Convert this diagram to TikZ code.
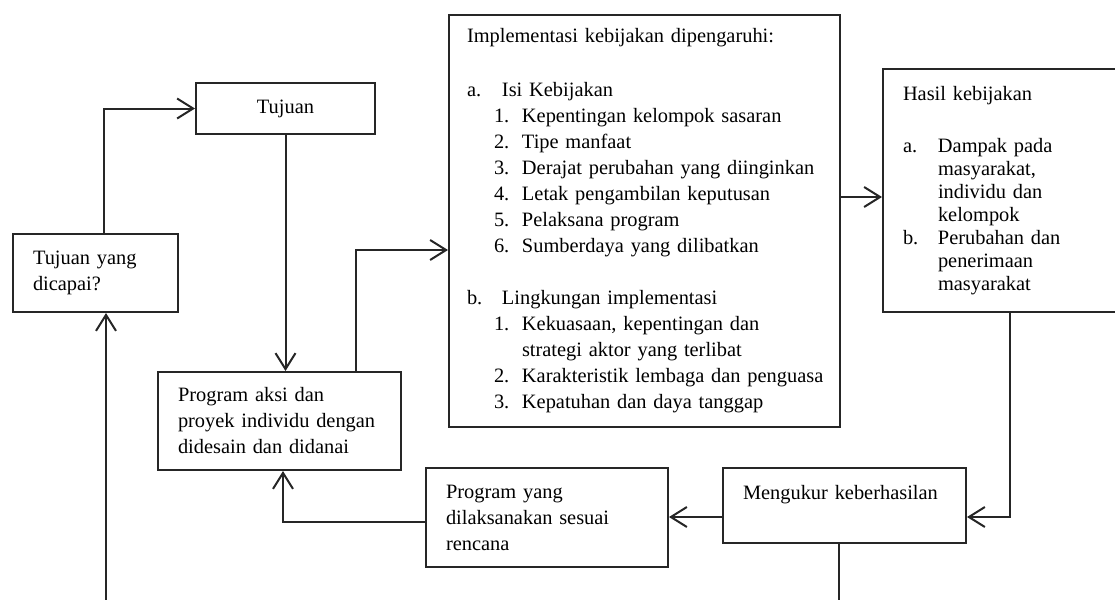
\documentclass[tikz,border=0pt]{standalone}
\usepackage{fontspec}
\setmainfont{Liberation Serif}
\usetikzlibrary{arrows.meta}
\newcommand\letitem[1]{\makebox[17.5pt][l]{#1}}
\newcommand\numitem[1]{\hspace*{13.5pt}\makebox[14pt][l]{#1}}
\begin{document}
\begin{tikzpicture}[x=0.5pt, y=-0.5pt,
    box/.style={draw=black!85, line width=1pt, rectangle, anchor=north west,
      inner xsep=10pt, inner ysep=0pt, align=left,
      font=\fontsize{10.2}{13}\selectfont},
    line/.style={draw=black!85, line width=1pt},
    link/.style={line, -{Straight Barb[length=8pt, width=10pt, line width=1pt]}}]
  \useasboundingbox (0,0) rectangle (1115,600);
  %
  \node[box, minimum width=82.5pt, minimum height=39pt, text width=62.5pt] (dicapai) at (12,233)
    {Tujuan yang\\dicapai?};
  \node[box, minimum width=89.5pt, minimum height=25.5pt, align=center] (tujuan) at (195,82) {Tujuan};
  \node[box, minimum width=121.5pt, minimum height=49pt, text width=101.5pt] (aksi) at (157,371)
    {Program aksi dan\\proyek individu dengan\\didesain dan didanai};
  %
  \node[box, minimum width=195.5pt, minimum height=206pt, inner xsep=9pt, text width=177.5pt] (impl) at (448,14)
    {Implementasi kebijakan dipengaruhi:\\[14pt]
     \letitem{a.}Isi Kebijakan\\
     \numitem{1.}Kepentingan kelompok sasaran\\
     \numitem{2.}Tipe manfaat\\
     \numitem{3.}Derajat perubahan yang diinginkan\\
     \numitem{4.}Letak pengambilan keputusan\\
     \numitem{5.}Pelaksana program\\
     \numitem{6.}Sumberdaya yang dilibatkan\\[13pt]
     \letitem{b.}Lingkungan implementasi\\
     \numitem{1.}Kekuasaan, kepentingan dan\\
     \hspace*{27.5pt}strategi aktor yang terlibat\\
     \mbox{\numitem{2.}Karakteristik lembaga dan penguasa}\\
     \numitem{3.}Kepatuhan dan daya tanggap};
  %
  \node[box, minimum width=121.5pt, minimum height=121.5pt, text width=101.5pt,
    font=\fontsize{10.2}{11.5}\selectfont] (hasil) at (882,68)
    {Hasil kebijakan\\[14.5pt]
     \letitem{a.}Dampak pada\\
     \hspace*{17.5pt}masyarakat,\\
     \hspace*{17.5pt}individu dan\\
     \hspace*{17.5pt}kelompok\\
     \letitem{b.}Perubahan dan\\
     \hspace*{17.5pt}penerimaan\\
     \hspace*{17.5pt}masyarakat\\[3pt]};
  %
  \node[box, minimum width=121pt, minimum height=49.5pt, text width=101pt] (pyang) at (425,467)
    {Program yang\\dilaksanakan sesuai\\rencana};
  \node[box, minimum width=121.5pt, minimum height=37.5pt, text width=101.5pt] (ukur) at (722,467)
    {Mengukur keberhasilan\\\mbox{}};
  %
  \coordinate (jA) at (104,0);   % bends
  \coordinate (jB) at (356,250);
  \coordinate (jC) at (0,197);
  \coordinate (jD) at (1010,517);
  \coordinate (jE) at (283,522);
  \coordinate (jF) at (839,600); % bottom ends
  \coordinate (jG) at (106,600);
  %
  \draw[link] (dicapai.north -| jA) |- (tujuan.west);
  \draw[link] (tujuan.south) -- (tujuan.south |- aksi.north);
  \draw[link] (aksi.north -| jB) |- (impl.west |- jB);
  \draw[link] (impl.east |- jC) -- (hasil.west |- jC);
  \draw[link] (hasil.south -| jD) |- (ukur.east |- jD);
  \draw[link] (ukur.west |- jD) -- (pyang.east |- jD);
  \draw[link] (pyang.west |- jE) -| (aksi.south -| jE);
  \draw[line] (ukur.south -| jF) -- (jF);
  \draw[link] (jG) -- (dicapai.south -| jG);
\end{tikzpicture}
\end{document}
